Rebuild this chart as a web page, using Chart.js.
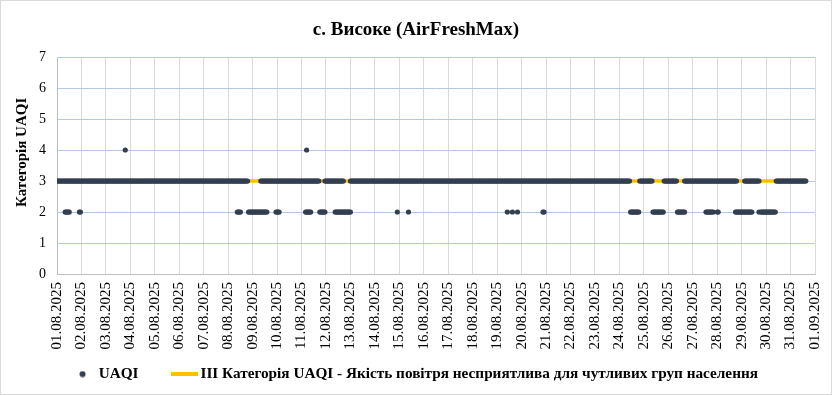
<!DOCTYPE html>
<html>
<head>
<meta charset="utf-8">
<title>с. Високе (AirFreshMax)</title>
<script src="https://cdn.jsdelivr.net/npm/chart.js@4.4.1/dist/chart.umd.min.js"></script>
<style>
  html, body { margin: 0; padding: 0; background: #fff; }
  #wrap { width: 832px; height: 395px; position: relative; }
</style>
</head>
<body>
<div id="wrap"><canvas id="chart"></canvas></div>
<script>
// Підписи днів на осі X (крок 24 години)
const dayLabels = [
    '01.08.2025', '02.08.2025', '03.08.2025', '04.08.2025', '05.08.2025', '06.08.2025',
    '07.08.2025', '08.08.2025', '09.08.2025', '10.08.2025', '11.08.2025', '12.08.2025',
    '13.08.2025', '14.08.2025', '15.08.2025', '16.08.2025', '17.08.2025', '18.08.2025',
    '19.08.2025', '20.08.2025', '21.08.2025', '22.08.2025', '23.08.2025', '24.08.2025',
    '25.08.2025', '26.08.2025', '27.08.2025', '28.08.2025', '29.08.2025', '30.08.2025',
    '31.08.2025', '01.09.2025'
];
const yTicks = [0, 1, 2, 3, 4, 5, 6, 7];

// Години з UAQI = 3 (від 01.08 00:00), інтервали [від, до]
const level3Runs = [
    [0, 187], [200, 257], [263, 281], [288, 562], [572, 584],
    [596, 608], [616, 667], [675, 689], [706, 735]
];
// Години з UAQI = 2
const level2Runs = [
    [8, 12], [22, 23], [177, 180], [188, 206], [215, 218], [244, 249],
    [258, 263], [273, 288], [334, 334], [345, 345], [442, 442], [447, 447],
    [452, 452], [477, 478], [563, 571], [585, 595], [609, 616], [637, 644],
    [648, 649], [666, 682], [689, 689], [691, 705]
];
// Години з UAQI = 4
const level4Hours = [67, 245];

// III категорія
const categoryLevel = 3;
const categoryFrom = 0;
const categoryTo = 735;

const seriesNames = [
    'UAQI',
    'ІІІ Категорія UAQI - Якість повітря несприятлива для чутливих груп населення'
];

const FONT = 'Liberation Serif, "Times New Roman", serif';
const NB = '\u00a0';
Chart.defaults.font.family = FONT;
Chart.defaults.color = '#000';

// Точки UAQI з інтервалів
const uaqiPoints = [];
function addRuns(runs, level) {
    runs.forEach(([a, b]) => {
        for (let h = a; h <= b; h++) uaqiPoints.push({ x: h, y: level });
    });
}
addRuns(level3Runs, 3);
addRuns(level2Runs, 2);
level4Hours.forEach(h => uaqiPoints.push({ x: h, y: 4 }));

// Маркери для легенди
function makeMark(w, h, draw) {
    const c = document.createElement('canvas');
    c.width = w; c.height = h;
    draw(c.getContext('2d'));
    return c;
}
const dotMark = makeMark(7, 7, g => {
    g.fillStyle = '#333f50';
    g.beginPath(); g.arc(3.5, 3.5, 3, 0, Math.PI * 2); g.fill();
});
const lineMark = makeMark(27, 4, g => {
    g.fillStyle = '#ffc000';
    g.fillRect(0, 0, 27, 4);
});
const legendMarks = [dotMark, lineMark];
const legendTexts = [seriesNames[0] + NB.repeat(6), seriesNames[1]];

const backgroundPlugin = {
    id: 'background',
    beforeDraw(chart) {
        const ctx = chart.ctx;
        ctx.save();
        ctx.fillStyle = '#fff';
        ctx.fillRect(0, 0, chart.width, chart.height);
        ctx.strokeStyle = '#d9d9d9';
        ctx.lineWidth = 1;
        ctx.strokeRect(0.5, 0.5, chart.width - 1, chart.height - 1);
        ctx.restore();
    }
};

const dayTicks = dayLabels.map((_, i) => i * 24);

const ctx = document.getElementById('chart').getContext('2d');
const chart = new Chart(ctx, {
    type: 'scatter',
    data: {
        datasets: [{
            label: seriesNames[0],
            data: uaqiPoints,
            backgroundColor: '#333f50',
            borderWidth: 0,
            pointRadius: 2.6,
            pointHoverRadius: 2.6,
            order: 1
        }, {
            type: 'line',
            label: seriesNames[1],
            data: [{ x: categoryFrom, y: categoryLevel }, { x: categoryTo, y: categoryLevel }],
            borderColor: '#ffc000',
            borderWidth: 3.5,
            pointRadius: 0,
            fill: false,
            order: 2
        }]
    },
    options: {
        responsive: true,
        maintainAspectRatio: false,
        animation: false,
        layout: { padding: { left: 0, right: 0, top: 0, bottom: 3.25 } },
        plugins: {
            tooltip: { enabled: false },
            title: {
                display: true,
                text: 'с. Високе (AirFreshMax)',
                color: '#000',
                font: { family: FONT, size: 19, weight: 'bold' },
                padding: { top: 18.6, bottom: 15.6 }
            },
            legend: {
                position: 'bottom',
                labels: {
                    usePointStyle: true,
                    pointStyleWidth: 17,
                    padding: 14.5,
                    color: '#000',
                    font: { family: FONT, size: 15.25, weight: 'bold' },
                    generateLabels: c => c.data.datasets.map((ds, i) => ({
                        text: legendTexts[i],
                        pointStyle: legendMarks[i],
                        fillStyle: '#fff',
                        strokeStyle: '#fff',
                        lineWidth: 0,
                        hidden: false,
                        datasetIndex: i
                    }))
                }
            }
        },
        scales: {
            x: {
                type: 'linear',
                min: 0,
                max: 744,
                afterBuildTicks: s => { s.ticks = dayTicks.map(v => ({ value: v })); },
                afterFit: s => {
                    s.height = 78;
                    s.paddingLeft = 0;
                    s.paddingRight = 17;
                },
                ticks: {
                    autoSkip: false,
                    minRotation: 90,
                    maxRotation: 90,
                    padding: 8,
                    color: '#000',
                    font: { family: FONT, size: 15 },
                    callback: v => dayLabels[Math.round(v / 24)]
                },
                grid: { color: '#d9d9d9', drawTicks: false },
                border: { color: '#bfbfbf' }
            },
            y: {
                min: 0,
                max: 7,
                afterBuildTicks: s => { s.ticks = yTicks.map(v => ({ value: v })); },
                afterFit: s => { s.width = 57; },
                ticks: {
                    padding: 11,
                    color: '#000',
                    font: { family: FONT, size: 14 }
                },
                grid: { color: '#b4c7e7', drawTicks: false },
                border: { color: '#bfbfbf' },
                title: {
                    display: true,
                    text: NB.repeat(7) + 'Категорія UAQI',
                    color: '#000',
                    font: { family: FONT, size: 15, weight: 'bold' },
                    padding: { top: 13, bottom: 0 }
                }
            }
        }
    },
    plugins: [backgroundPlugin]
});
</script>
</body>
</html>
